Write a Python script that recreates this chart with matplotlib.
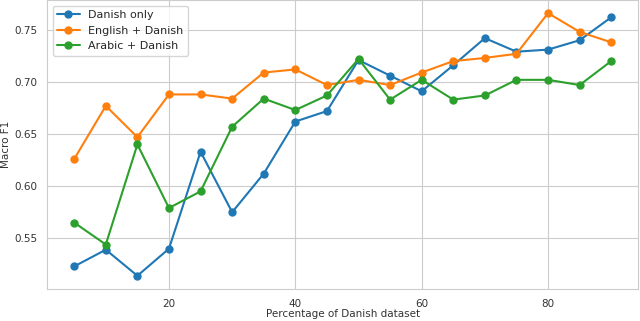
import matplotlib
matplotlib.use("Agg")
import matplotlib.pyplot as plt
import seaborn as sns

# Percentage of the Danish dataset used for training
pct = [5, 10, 15, 20, 25, 30, 35, 40, 45, 50, 55, 60, 65, 70, 75, 80, 85, 90]

danish_only = [0.523, 0.539, 0.514, 0.540, 0.633, 0.575, 0.612, 0.662, 0.672,
               0.721, 0.706, 0.691, 0.716, 0.742, 0.729, 0.731, 0.740, 0.762]
english_danish = [0.626, 0.677, 0.647, 0.688, 0.688, 0.684, 0.709, 0.712, 0.697,
                  0.702, 0.697, 0.709, 0.720, 0.723, 0.727, 0.766, 0.748, 0.738]
arabic_danish = [0.565, 0.544, 0.640, 0.579, 0.595, 0.657, 0.684, 0.673, 0.687,
                 0.722, 0.683, 0.702, 0.683, 0.687, 0.702, 0.702, 0.697, 0.720]

sns.set_style("whitegrid")
plt.rcParams['font.family'] = ['DejaVu Sans']

fig = plt.figure(figsize=(6.4, 3.21), dpi=100)
ax = fig.add_axes([0.074, 0.1, 0.923, 0.9])

ax.plot(pct, danish_only, marker="o", markersize=5, linewidth=1.5, label="Danish only")
ax.plot(pct, english_danish, marker="o", markersize=5, linewidth=1.5, label="English + Danish")
ax.plot(pct, arabic_danish, marker="o", markersize=5, linewidth=1.5, label="Arabic + Danish")

ax.set_xticks([20, 40, 60, 80])
ax.set_yticks([0.55, 0.60, 0.65, 0.70, 0.75])
ax.tick_params(labelsize=7.5, colors="#333333")
ax.set_xlabel("Percentage of Danish dataset", fontsize=7.5, color="#333333")
ax.set_ylabel("Macro F1", fontsize=7.5, color="#333333")
ax.yaxis.set_label_coords(-0.062, 0.5)
ax.xaxis.set_label_coords(0.5, -0.068)
ax.legend(loc="upper left", fontsize=8)

plt.savefig("out.png")
